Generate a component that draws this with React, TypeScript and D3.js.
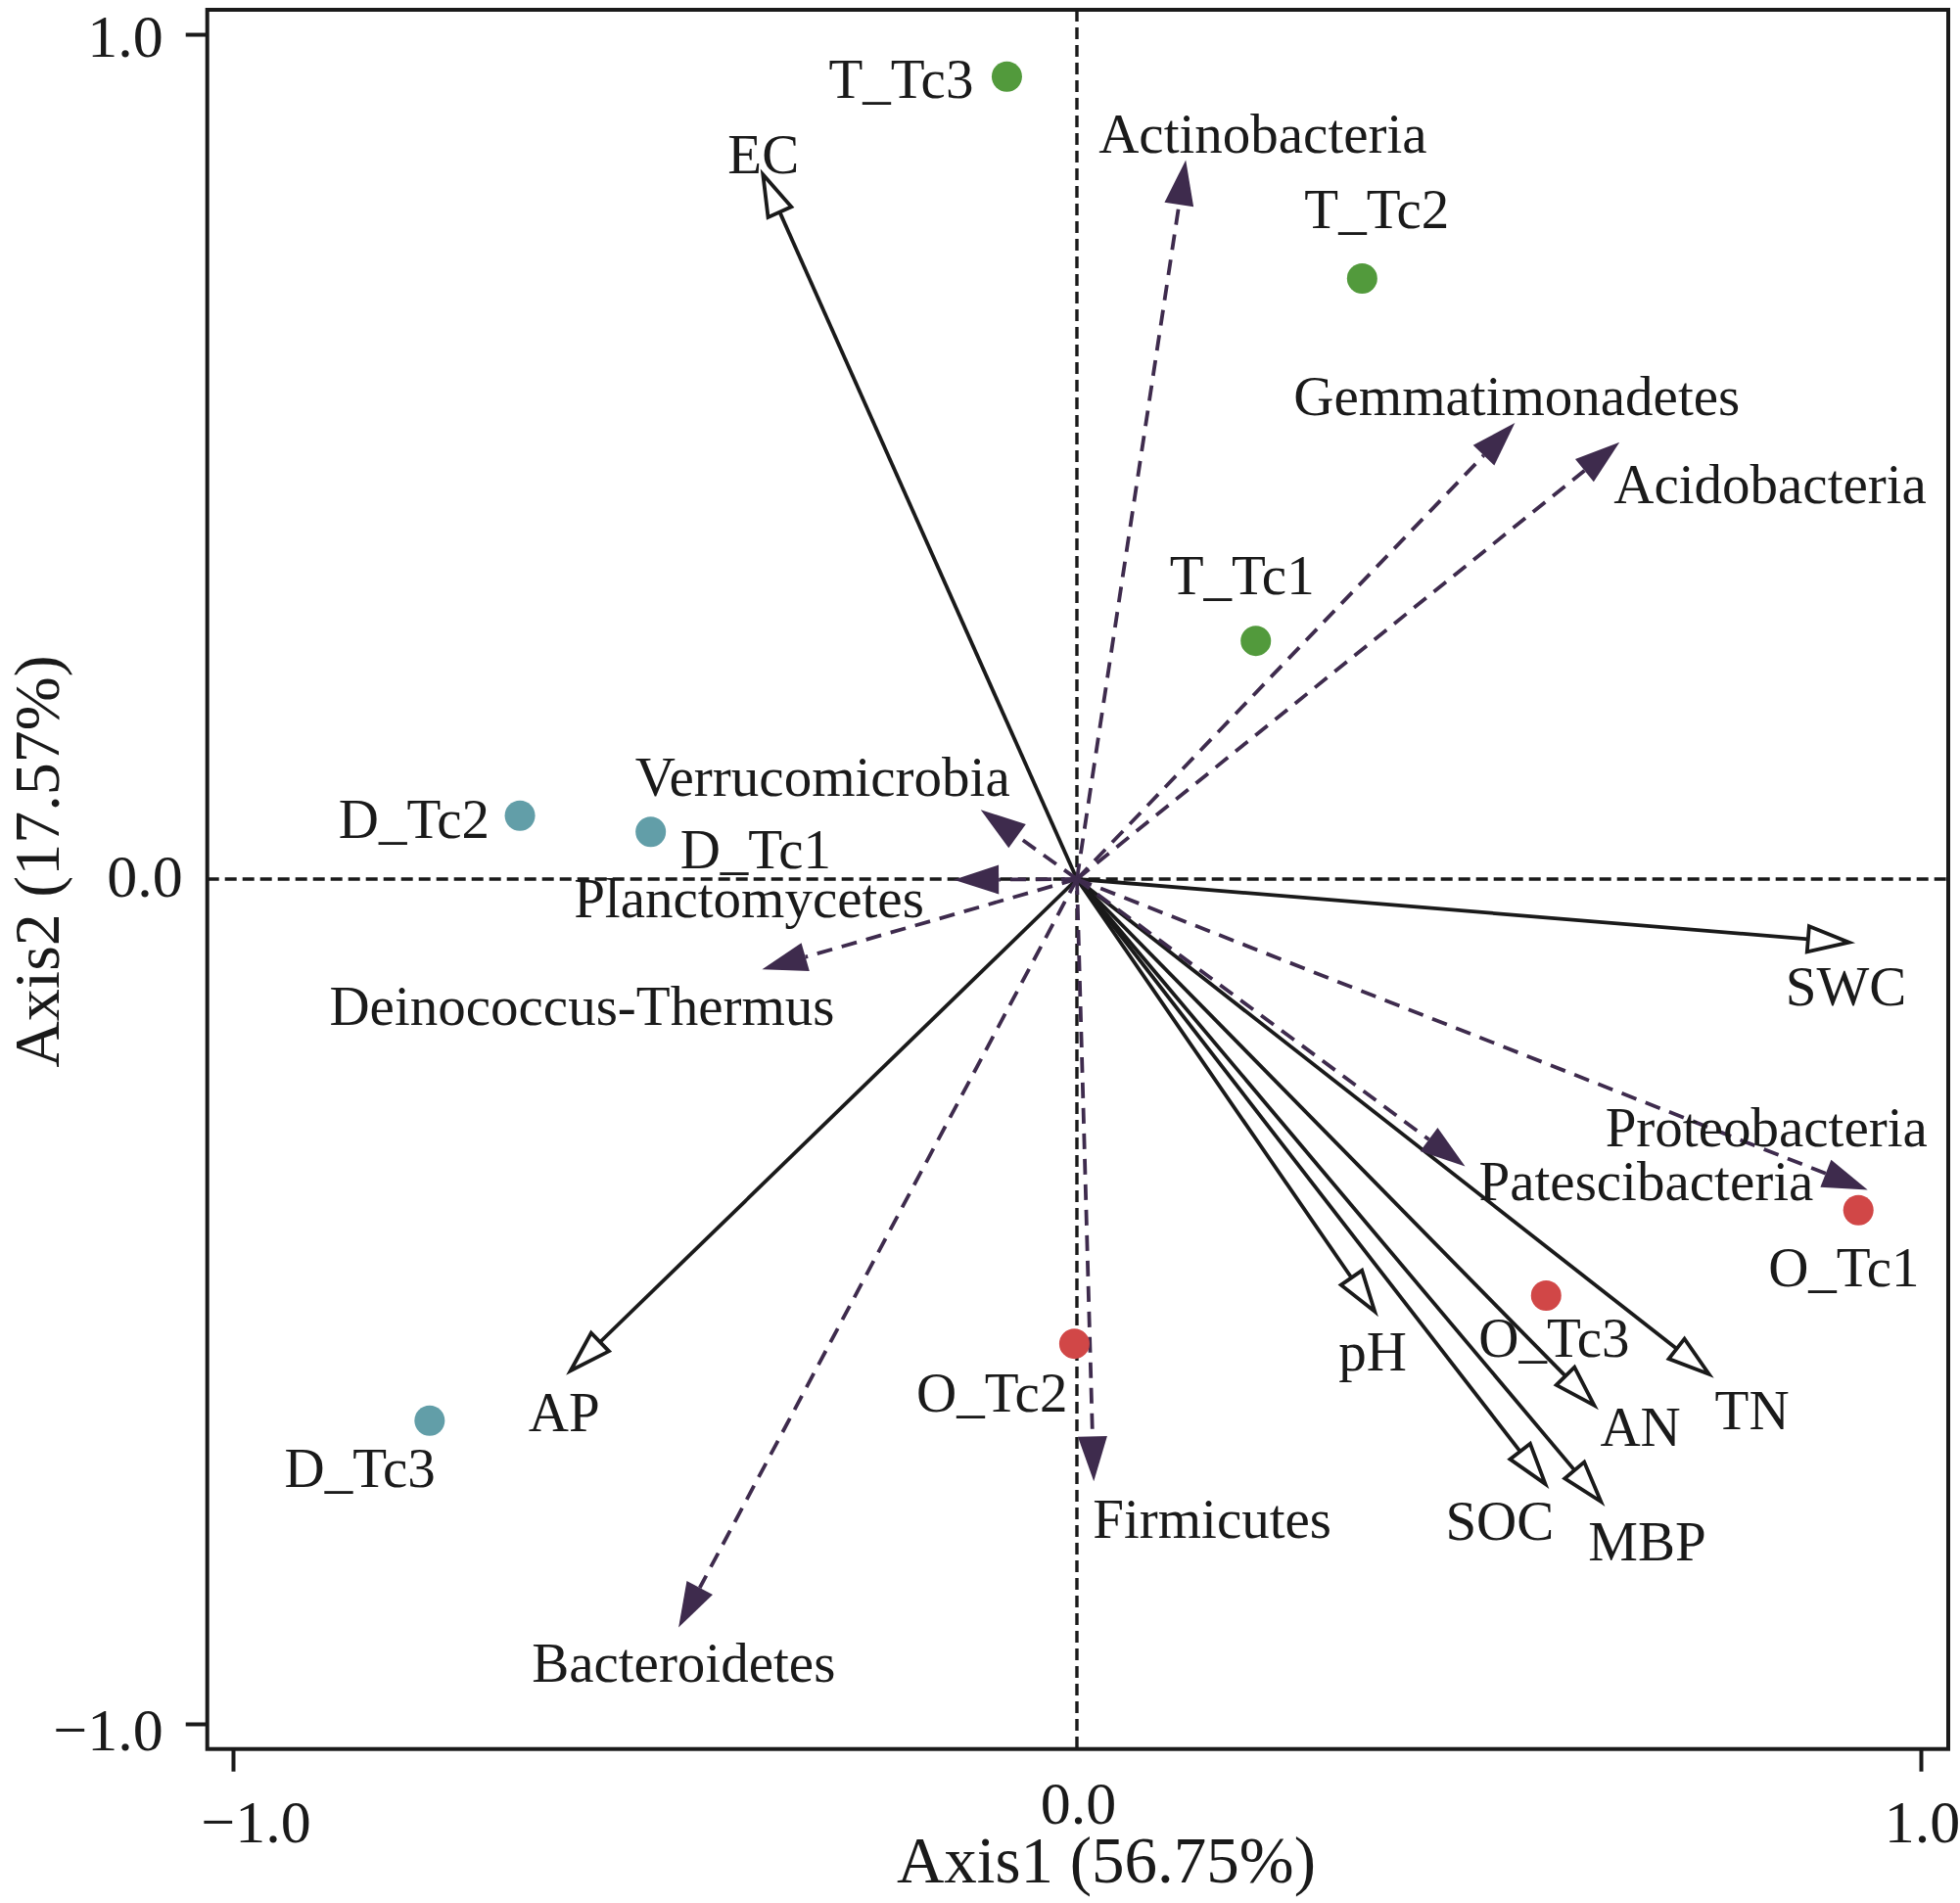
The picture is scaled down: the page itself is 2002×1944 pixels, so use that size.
import { useEffect, useRef } from "react"
import * as d3 from "d3"

// sample sites (site scores)
const sites = ["T_Tc1", "T_Tc2", "T_Tc3", "D_Tc1", "D_Tc2", "D_Tc3", "O_Tc1", "O_Tc2", "O_Tc3"]
const siteAxis1 = [0.212, 0.338, -0.083, -0.505, -0.66, -0.767, 0.926, -0.003, 0.556]
const siteAxis2 = [0.282, 0.711, 0.95, 0.056, 0.075, -0.641, -0.392, -0.55, -0.493]
const siteGroup = ["T", "T", "T", "D", "D", "D", "O", "O", "O"]

// environmental factors (solid arrows)
const envVars = ["EC", "SWC", "pH", "TN", "AN", "SOC", "MBP", "AP"]
const envAxis1 = [-0.372, 0.915, 0.353, 0.749, 0.613, 0.555, 0.621, -0.6]
const envAxis2 = [0.834, -0.075, -0.512, -0.586, -0.623, -0.716, -0.737, -0.582]

// phyla (dashed arrows)
const phyla = [
  "Actinobacteria",
  "Gemmatimonadetes",
  "Acidobacteria",
  "Verrucomicrobia",
  "Planctomycetes",
  "Deinococcus-Thermus",
  "Patescibacteria",
  "Proteobacteria",
  "Firmicutes",
  "Bacteroidetes",
]
const phylaAxis1 = [0.129, 0.519, 0.643, -0.114, -0.146, -0.373, 0.46, 0.937, 0.02, -0.472]
const phylaAxis2 = [0.851, 0.54, 0.517, 0.082, -0.001, -0.107, -0.34, -0.368, -0.713, -0.886]

const tickValues = [-1, 0, 1]

// label placement relative to the mark, in px: [dx, dy, anchor]
const labelPos: Record<string, [number, number, string]> = {
  T_Tc1: [-88, -48, "start"],
  T_Tc2: [-59, -51, "start"],
  T_Tc3: [-34, 22, "end"],
  D_Tc1: [30, 37, "start"],
  D_Tc2: [-31, 23, "end"],
  D_Tc3: [6, 68, "end"],
  O_Tc1: [-92, 78, "start"],
  O_Tc2: [-7, 69, "end"],
  O_Tc3: [-69, 63, "start"],
  EC: [-36, -1, "start"],
  SWC: [-65, 64, "start"],
  pH: [-37, 60, "start"],
  TN: [6, 56, "start"],
  AN: [6, 41, "start"],
  SOC: [-102, 57, "start"],
  MBP: [-13, 60, "start"],
  AP: [-43, 62, "start"],
  Actinobacteria: [-89, -8, "start"],
  Gemmatimonadetes: [-226, -8, "start"],
  Acidobacteria: [-6, 62, "start"],
  Verrucomicrobia: [-353, -14, "start"],
  Planctomycetes: [-388, 38, "start"],
  "Deinococcus-Thermus": [-442, 57, "start"],
  Patescibacteria: [14, 35, "start"],
  Proteobacteria: [-268, -45, "start"],
  Firmicutes: [-1, 58, "start"],
  Bacteroidetes: [-150, 55, "start"],
}

const groupColor: Record<string, string> = { T: "#529a3c", D: "#629ea8", O: "#d14747" }

const FONT = "'Liberation Serif', 'Times New Roman', serif"
const INK = "#1a1a1a"
const PURPLE = "#3e2b4d"

export default function App() {
  const svgRef = useRef<SVGSVGElement>(null)

  useEffect(() => {
    if (!svgRef.current) return
    const svg = d3.select(svgRef.current)
    svg.selectAll("*").remove()

    const x = d3.scaleLinear().domain([-1.0305, 1.0325]).range([211.7, 1990])
    const y = d3.scaleLinear().domain([-1.0298, 1.029]).range([1786.7, 10])
    const x0 = x(0)
    const y0 = y(0)

    // zero lines
    svg
      .append("line")
      .attr("x1", x.range()[0])
      .attr("x2", x.range()[1])
      .attr("y1", y0)
      .attr("y2", y0)
      .style("stroke", INK)
      .style("stroke-width", 3.4)
      .style("stroke-dasharray", "12 6")
    svg
      .append("line")
      .attr("x1", x0)
      .attr("x2", x0)
      .attr("y1", y.range()[1])
      .attr("y2", y.range()[0])
      .style("stroke", INK)
      .style("stroke-width", 3.4)
      .style("stroke-dasharray", "12 6")

    const arrow = (tx: number, ty: number, len: number, half: number) => {
      const dx = tx - x0
      const dy = ty - y0
      const L = Math.hypot(dx, dy)
      const ux = dx / L
      const uy = dy / L
      const bx = tx - ux * len
      const by = ty - uy * len
      const px = -uy * half
      const py = ux * half
      return {
        bx,
        by,
        head: `M${tx},${ty}L${bx + px},${by + py}L${bx - px},${by - py}Z`,
      }
    }

    // environmental arrows
    const envG = svg.append("g")
    envVars.forEach((name, i) => {
      const tx = x(envAxis1[i])
      const ty = y(envAxis2[i])
      const a = arrow(tx, ty, 42, 13)
      envG
        .append("line")
        .attr("x1", x0)
        .attr("y1", y0)
        .attr("x2", a.bx)
        .attr("y2", a.by)
        .style("stroke", INK)
        .style("stroke-width", 3.8)
      envG
        .append("path")
        .attr("d", a.head)
        .style("fill", "#fff")
        .style("stroke", INK)
        .style("stroke-width", 3.8)
        .style("stroke-linejoin", "miter")
    })

    // phyla arrows
    const spG = svg.append("g")
    phyla.forEach((name, i) => {
      const tx = x(phylaAxis1[i])
      const ty = y(phylaAxis2[i])
      const a = arrow(tx, ty, 46, 15)
      spG
        .append("line")
        .attr("x1", x0)
        .attr("y1", y0)
        .attr("x2", a.bx)
        .attr("y2", a.by)
        .style("stroke", PURPLE)
        .style("stroke-width", 3.8)
        .style("stroke-dasharray", "16 10")
      spG.append("path").attr("d", a.head).style("fill", PURPLE).style("stroke", "none")
    })

    // sites
    svg
      .append("g")
      .selectAll("circle")
      .data(sites)
      .enter()
      .append("circle")
      .attr("cx", (d, i) => x(siteAxis1[i]))
      .attr("cy", (d, i) => y(siteAxis2[i]))
      .attr("r", 15.5)
      .style("fill", (d, i) => groupColor[siteGroup[i]])

    // labels
    const labels: { name: string; px: number; py: number }[] = [
      ...sites.map((n, i) => ({ name: n, px: x(siteAxis1[i]), py: y(siteAxis2[i]) })),
      ...envVars.map((n, i) => ({ name: n, px: x(envAxis1[i]), py: y(envAxis2[i]) })),
      ...phyla.map((n, i) => ({ name: n, px: x(phylaAxis1[i]), py: y(phylaAxis2[i]) })),
    ]
    svg
      .append("g")
      .selectAll("text")
      .data(labels)
      .enter()
      .append("text")
      .attr("x", (d) => d.px + labelPos[d.name][0])
      .attr("y", (d) => d.py + labelPos[d.name][1])
      .attr("text-anchor", (d) => labelPos[d.name][2])
      .style("font-family", FONT)
      .style("font-size", "57px")
      .style("fill", INK)
      .text((d) => d.name)

    // frame
    svg
      .append("rect")
      .attr("x", x.range()[0])
      .attr("y", y.range()[1])
      .attr("width", x.range()[1] - x.range()[0])
      .attr("height", y.range()[0] - y.range()[1])
      .style("fill", "none")
      .style("stroke", INK)
      .style("stroke-width", 4)

    const fmt = d3.format(".1f")

    // y axis
    const yAxis = svg
      .append("g")
      .attr("transform", `translate(${x.range()[0]},0)`)
      .call(d3.axisLeft(y).tickValues(tickValues).tickFormat((d) => fmt(d as number)).tickSizeInner(22).tickSizeOuter(0))
    yAxis.select(".domain").remove()
    yAxis.selectAll(".tick line").style("stroke", INK).style("stroke-width", 4).style("opacity", (d) => (d === 0 ? 0 : 1))
    yAxis
      .selectAll<SVGTextElement, number>(".tick text")
      .attr("x", (d) => (d === 0 ? -25 : -45))
      .attr("dy", null)
      .attr("y", (d) => (d === 0 ? 17 : d > 0 ? 22 : 27))
      .style("font-family", FONT)
      .style("font-size", "62px")
      .style("fill", INK)

    // x axis
    const xAxis = svg
      .append("g")
      .attr("transform", `translate(0,${y.range()[0]})`)
      .call(d3.axisBottom(x).tickValues(tickValues).tickFormat((d) => fmt(d as number)).tickSizeInner(23).tickSizeOuter(0))
    xAxis.select(".domain").remove()
    xAxis.selectAll(".tick line").style("stroke", INK).style("stroke-width", 4).style("opacity", (d) => (d === 0 ? 0 : 1))
    xAxis
      .selectAll<SVGTextElement, number>(".tick text")
      .attr("dy", null)
      .attr("x", (d) => (d < 0 ? 23 : 1))
      .attr("y", (d) => (d === 0 ? 76 : 95))
      .style("font-family", FONT)
      .style("font-size", "62px")
      .style("fill", INK)

    // axis titles
    svg
      .append("text")
      .attr("x", 1130)
      .attr("y", 1923)
      .attr("text-anchor", "middle")
      .style("font-family", FONT)
      .style("font-size", "67px")
      .style("fill", INK)
      .text("Axis1 (56.75%)")
    svg
      .append("text")
      .attr("transform", "translate(60,880) rotate(-90)")
      .attr("text-anchor", "middle")
      .style("font-family", FONT)
      .style("font-size", "66px")
      .style("fill", INK)
      .text("Axis2 (17.57%)")
  }, [])

  return (
    <svg
      ref={svgRef}
      width={2002}
      height={1944}
      viewBox="0 0 2002 1944"
      style={{ position: "absolute", left: 0, top: 0, background: "#fff" }}
    />
  )
}
